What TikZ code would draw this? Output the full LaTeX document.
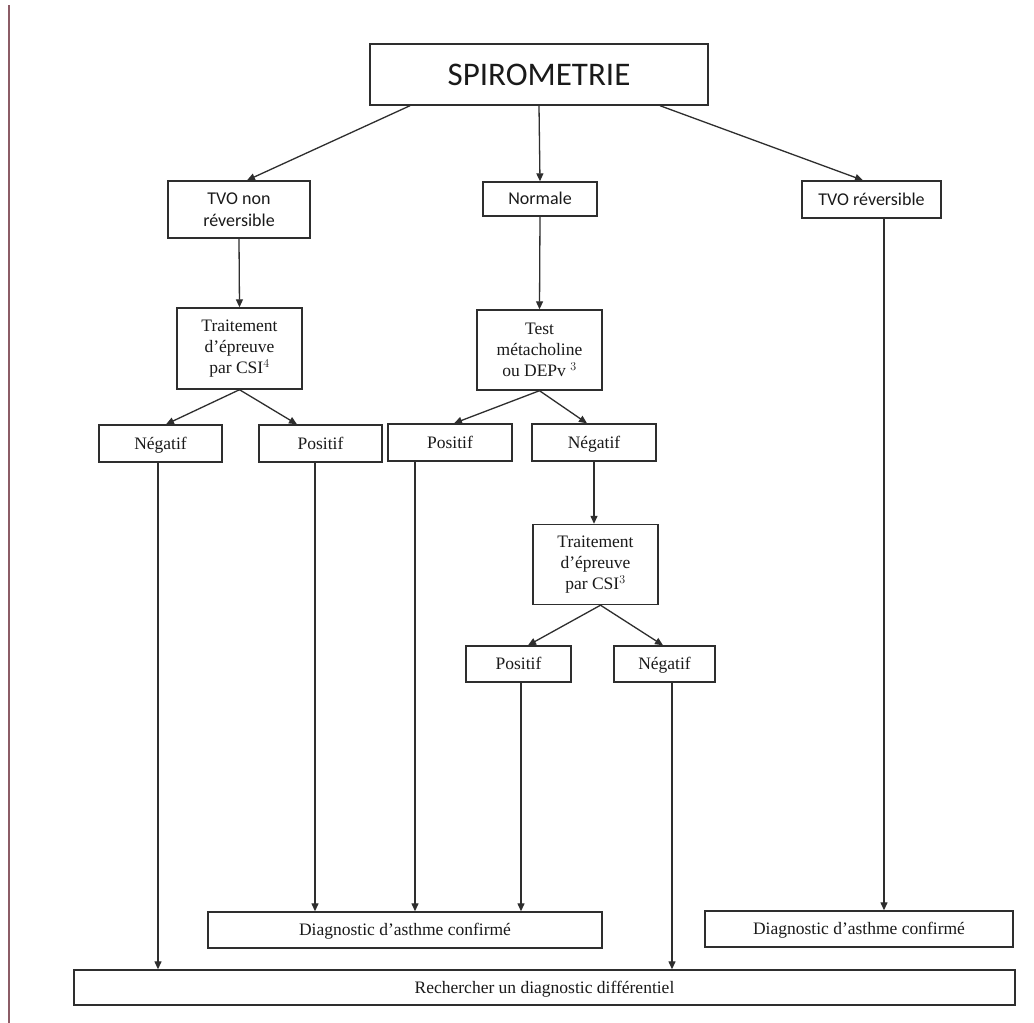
\documentclass[tikz,border=0pt]{standalone}
\usepackage{fontspec}
\setmainfont{Liberation Serif}
\newfontfamily\calfont{Carlito}
\usetikzlibrary{arrows.meta,calc}
\definecolor{linec}{HTML}{2E2E2E}
\definecolor{textc}{HTML}{1A1A1A}
\definecolor{marginc}{RGB}{140,92,102}
\begin{document}
\begin{tikzpicture}[x=1pt,y=-1pt,
  box/.style={draw=linec,line width=1.4pt,rectangle,inner sep=0pt,align=center,text=textc,
    font=\fontsize{17.5}{21}\selectfont},
  one/.style={text height=13.5pt,text depth=2.5pt},
  sbox/.style={box,font=\calfont\fontsize{18}{22}\selectfont},
  arr/.style={draw=linec,line width=1.3pt,-{Triangle[length=8pt,width=7pt]}},
]
\useasboundingbox (0,0) rectangle (1034,1023);
\fill[white] (0,0) rectangle (1034,1023);
\draw[marginc,line width=2pt] (8.5,5) -- (8.5,1023);

% nodes
\node[box,font=\calfont\fontsize{33}{38}\selectfont,minimum width=338pt,minimum height=61pt] (spiro) at (539,74.5) {SPIROMETRIE};
\node[sbox,minimum width=142pt,minimum height=57pt] (tvon) at (239,209.5) {TVO non\\réversible};
\node[sbox,one,minimum width=114pt,minimum height=34pt] (normale) at (540,199) {Normale};
\node[sbox,one,minimum width=139pt,minimum height=37pt] (tvor) at (871.5,199.5) {TVO réversible};
\node[box,minimum width=125pt,minimum height=81pt] (trait1) at (239.5,348.5) {Traitement\\d'épreuve\\par CSI$^{4}$};
\node[box,minimum width=125pt,minimum height=80pt] (test) at (539.5,350) {Test\\métacholine\\ou DEPv $^{3}$};
\node[box,one,minimum width=123pt,minimum height=37pt] (neg1) at (160.5,443.5) {Négatif};
\node[box,one,minimum width=123pt,minimum height=37pt] (pos1) at (320.5,443.5) {Positif};
\node[box,one,minimum width=124pt,minimum height=37pt] (pos2) at (450,442.5) {Positif};
\node[box,one,minimum width=124pt,minimum height=37pt] (neg2) at (594,442.5) {Négatif};
\node[box,minimum width=125pt,minimum height=80pt] (trait2) at (595.5,564.5) {Traitement\\d'épreuve\\par CSI$^{3}$};
\node[box,one,minimum width=105pt,minimum height=36pt] (pos3) at (518.5,664) {Positif};
\node[box,one,minimum width=101pt,minimum height=36pt] (neg3) at (664.5,664) {Négatif};
\node[box,one,minimum width=394pt,minimum height=36pt] (diag1) at (405,930) {Diagnostic d'asthme confirmé};
\node[box,one,minimum width=308pt,minimum height=36pt] (diag2) at (859,929) {Diagnostic d'asthme confirmé};
\node[box,one,minimum width=941pt,minimum height=35pt] (rech) at (544.5,987.5) {Rechercher un diagnostic différentiel};

% connectors
\draw[arr] ([xshift=-129pt]spiro.south) -- ([xshift=8pt]tvon.north);
\draw[arr] (spiro.south) -- (normale.north);
\draw[arr] ([xshift=121pt]spiro.south) -- ([xshift=-8.5pt]tvor.north);
\draw[arr] (tvon.south) -- (trait1.north);
\draw[arr] (normale.south) -- (test.north);
\draw[arr] ([xshift=12.5pt]tvor.south) coordinate (c1) -- (c1 |- diag2.north);
\draw[arr] (trait1.south) -- ([xshift=5.5pt]neg1.north);
\draw[arr] (trait1.south) -- ([xshift=-23.5pt]pos1.north);
\draw[arr] (test.south) -- ([xshift=4pt]pos2.north);
\draw[arr] (test.south) -- ([xshift=-7pt]neg2.north);
\draw[arr] ([xshift=-2.5pt]neg1.south) coordinate (c2) -- (c2 |- rech.north);
\draw[arr] ([xshift=-5.5pt]pos1.south) coordinate (c3) -- (c3 |- diag1.north);
\draw[arr] ([xshift=-35pt]pos2.south) coordinate (c4) -- (c4 |- diag1.north);
\draw[arr] (neg2.south) -- (neg2.south |- trait2.north);
\draw[arr] ([xshift=5pt]trait2.south) -- ([xshift=9.5pt]pos3.north);
\draw[arr] ([xshift=5pt]trait2.south) -- ([xshift=-1.5pt]neg3.north);
\draw[arr] ([xshift=2.5pt]pos3.south) coordinate (c5) -- (c5 |- diag1.north);
\draw[arr] ([xshift=7.5pt]neg3.south) coordinate (c6) -- (c6 |- rech.north);
\end{tikzpicture}
\end{document}
